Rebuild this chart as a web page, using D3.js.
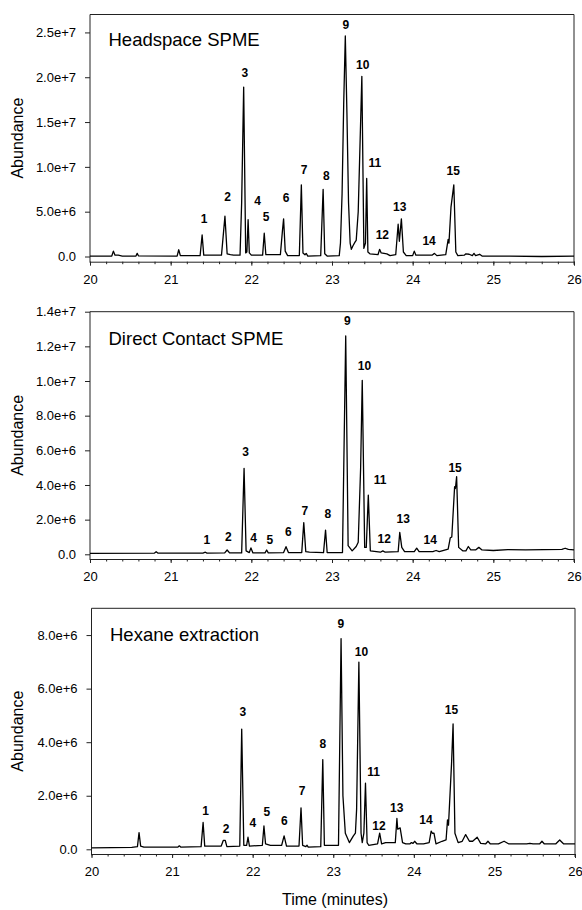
<!DOCTYPE html>
<html lang="en">
<head>
<meta charset="utf-8">
<title>Chromatograms</title>
<script src="https://d3js.org/d3.v7.min.js"></script>
<style>
  body { margin: 0; background: #fff; }
  text { font-family: "Liberation Sans", Arial, sans-serif; fill: #000; }
</style>
</head>
<body>
<svg width="582" height="910"></svg>
<script>

// ---- data (time in minutes, abundance in units of 1e6) ----
var titles = ["Headspace SPME", "Direct Contact SPME", "Hexane extraction"];
var yMaxes = [2.7e7, 1.4e7, 9e6];
var yTicks = [
  [0, 5e6, 1e7, 1.5e7, 2e7, 2.5e7],
  [0, 2e6, 4e6, 6e6, 8e6, 1e7, 1.2e7, 1.4e7],
  [0, 2e6, 4e6, 6e6, 8e6]
];
var xTicks = [20, 21, 22, 23, 24, 25, 26];

var headspace = [
  [20.00,0.05],[20.27,0.05],[20.29,0.6],[20.31,0.15],[20.35,0.15],[20.40,0.05],
  [20.57,0.05],[20.585,0.35],[20.60,0.08],
  [21.08,0.05],[21.10,0.75],[21.12,0.1],
  [21.365,0.1],[21.39,2.4],[21.41,0.15],
  [21.63,0.15],[21.673,4.5],[21.70,0.3],[21.74,0.2],[21.78,0.15],
  [21.86,0.15],[21.88,6],[21.905,18.9],[21.93,0.4],[21.945,0.5],[21.96,4.1],[21.975,0.4],[22.0,0.15],
  [22.14,0.15],[22.16,2.6],[22.18,0.2],
  [22.36,0.2],[22.385,2.8],[22.40,4.2],[22.42,0.6],[22.45,0.1],
  [22.595,0.1],[22.62,8.0],[22.64,0.4],[22.665,0.2],[22.68,0.35],[22.70,0.05],
  [22.86,0.1],[22.89,7.5],[22.91,0.3],[22.94,0.05],
  [23.09,0.1],[23.105,1.5],[23.125,7],[23.145,17],[23.165,24.6],[23.185,16],[23.205,6],[23.225,1.5],
  [23.24,0.8],[23.26,1.2],[23.285,1.6],[23.30,1.8],
  [23.325,5],[23.37,20.1],[23.395,0.9],[23.415,1.5],[23.43,8.7],[23.445,0.5],[23.47,0.3],
  [23.57,0.2],[23.59,0.8],[23.61,0.4],[23.68,0.3],[23.72,0.1],
  [23.79,0.2],[23.82,3.6],[23.835,1.7],[23.86,4.2],[23.885,0.5],[23.92,0.1],
  [24.00,0.1],[24.02,0.6],[24.04,0.15],
  [24.24,0.15],[24.27,0.35],[24.30,0.1],
  [24.41,0.2],[24.44,1.9],[24.45,1.5],[24.475,5.5],[24.51,8.0],[24.535,0.5],[24.56,0.1],
  [24.64,0.15],[24.66,0.3],[24.70,0.25],[24.74,0.1],[24.76,0.35],[24.78,0.1],[24.83,0.25],[24.86,0.05],
  [25.2,0.05],[25.6,0.0],[26.0,0.05]
];

var directContact = [
  [20.0,0.05],[20.8,0.07],[20.82,0.15],[20.84,0.07],[21.40,0.07],[21.43,0.12],[21.45,0.07],
  [21.67,0.08],[21.70,0.25],[21.73,0.08],
  [21.88,0.08],[21.91,4.96],[21.935,0.2],[21.975,0.1],[21.995,0.37],[22.02,0.08],
  [22.17,0.08],[22.19,0.25],[22.21,0.08],
  [22.40,0.1],[22.43,0.44],[22.46,0.1],
  [22.625,0.1],[22.65,1.83],[22.675,0.15],[22.72,0.12],
  [22.895,0.1],[22.92,1.4],[22.94,0.1],
  [23.13,0.1],[23.17,12.6],[23.20,0.5],[23.25,0.2],[23.30,0.45],[23.325,0.7],[23.355,5],[23.375,10.04],
  [23.405,0.4],[23.425,0.4],[23.45,3.42],[23.475,0.2],
  [23.60,0.12],[23.63,0.2],[23.66,0.12],
  [23.82,0.15],[23.84,1.27],[23.865,0.4],[23.9,0.15],
  [24.02,0.15],[24.05,0.35],[24.08,0.15],
  [24.25,0.15],[24.29,0.22],[24.33,0.15],
  [24.44,0.3],[24.466,0.95],[24.485,1.0],[24.52,3.9],[24.53,3.8],[24.545,4.48],[24.57,0.4],[24.62,0.2],
  [24.66,0.2],[24.69,0.45],[24.72,0.25],[24.78,0.25],[24.82,0.4],[24.86,0.25],
  [25.0,0.22],[25.18,0.27],[25.4,0.25],[25.85,0.28],[25.89,0.35],[25.93,0.28],[26.0,0.25]
];

var hexane = [
  [20.0,0.05],[20.50,0.07],[20.57,0.1],[20.59,0.62],[20.61,0.12],[20.65,0.08],[20.7,0.08],
  [21.07,0.08],[21.09,0.13],[21.11,0.08],
  [21.36,0.1],[21.385,1.0],[21.405,0.12],
  [21.61,0.12],[21.635,0.33],[21.66,0.33],[21.68,0.1],
  [21.84,0.12],[21.864,4.49],[21.89,0.15],[21.925,0.15],[21.942,0.45],[21.96,0.12],
  [22.12,0.15],[22.14,0.87],[22.16,0.2],[22.22,0.15],
  [22.36,0.15],[22.39,0.5],[22.42,0.12],
  [22.575,0.12],[22.60,1.55],[22.62,0.15],[22.66,0.1],[22.675,0.15],[22.69,0.08],
  [22.845,0.1],[22.87,3.35],[22.89,0.15],
  [23.065,0.15],[23.097,7.87],[23.12,2],[23.15,0.6],[23.20,0.25],[23.25,0.5],[23.275,0.6],[23.29,1.5],
  [23.318,6.99],[23.345,0.6],[23.36,0.25],[23.38,0.6],[23.40,2.47],[23.42,0.25],[23.44,0.15],
  [23.55,0.2],[23.576,0.6],[23.60,0.2],[23.65,0.25],
  [23.77,0.25],[23.79,1.15],[23.80,0.75],[23.83,0.8],[23.86,0.25],[23.9,0.2],
  [23.95,0.2],[23.97,0.25],[23.99,0.22],[24.01,0.3],[24.04,0.2],[24.12,0.2],
  [24.19,0.25],[24.215,0.68],[24.23,0.6],[24.25,0.6],[24.275,0.2],[24.35,0.3],
  [24.40,0.35],[24.418,1.1],[24.43,0.9],[24.468,3.2],[24.487,4.68],[24.51,0.6],[24.55,0.25],
  [24.60,0.3],[24.643,0.55],[24.69,0.3],[24.73,0.3],[24.786,0.45],[24.83,0.22],[24.89,0.2],[24.92,0.3],[24.95,0.2],
  [25.05,0.2],[25.12,0.3],[25.18,0.2],[25.40,0.2],[25.44,0.22],[25.48,0.2],[25.56,0.2],[25.59,0.3],[25.62,0.2],
  [25.76,0.2],[25.81,0.35],[25.86,0.2],[26.0,0.2]
];

// peak labels: [label, time, abundance (1e6) of label baseline]
var headspaceLabels = [
  ["1",21.415,3.7],["2",21.705,6.2],["3",21.921,20.0],["4",22.078,5.8],["5",22.184,4.0],
  ["6",22.432,6.1],["7",22.653,9.2],["8",22.929,8.5],["9",23.173,25.4],["10",23.38,20.9],
  ["11",23.532,10.0],["12",23.624,1.9],["13",23.84,5.1],["14",24.204,1.3],["15",24.503,9.1]
];
var directLabels = [
  ["1",21.447,0.62],["2",21.714,0.77],["3",21.93,5.67],["4",22.027,0.69],["5",22.23,0.62],
  ["6",22.46,1.06],["7",22.662,2.25],["8",22.947,2.12],["9",23.191,13.21],["10",23.403,10.66],
  ["11",23.596,4.08],["12",23.647,0.65],["13",23.882,1.83],["14",24.218,0.58],["15",24.526,4.77]
];
var hexaneLabels = [
  ["1",21.417,1.28],["2",21.67,0.6],["3",21.878,4.97],["4",22.002,0.82],["5",22.177,1.24],
  ["6",22.393,0.89],["7",22.614,2.02],["8",22.871,3.77],["9",23.093,8.28],["10",23.35,7.22],
  ["11",23.502,2.72],["12",23.567,0.71],["13",23.788,1.41],["14",24.151,0.96],["15",24.468,5.06]
];

var traces = [headspace, directContact, hexane];
var peakLabels = [headspaceLabels, directLabels, hexaneLabels];

// ---- layout of the three stacked panels ----
var panels = [
  {left: 90,   right: 574, top: 14.5,  zero: 256.5, axisY: 261.7, titleY: 46},
  {left: 90,   right: 574, top: 311.7, zero: 554.3, axisY: 559,   titleY: 344.5},
  {left: 91.5, right: 575, top: 608.3, zero: 849.3, axisY: 854,   titleY: 640.5}
];

var svg = d3.select("svg");
var fmt = function(d) { return d === 0 ? "0.0" : d3.format(".1e")(d); };
var minorTicks = d3.range(20, 26.001, 0.2).map(function(d) { return +d.toFixed(1); });

panels.forEach(function(p, i) {
  var x = d3.scaleLinear().domain([20, 26]).range([p.left, p.right]);
  var y = d3.scaleLinear().domain([0, yMaxes[i]]).range([p.zero, p.top]);
  var g = svg.append("g");

  // frame: top and right edges
  g.append("path")
      .attr("d", "M" + p.left + "," + p.top + "H" + p.right + "V" + (p.axisY + 3))
      .attr("fill", "none")
      .attr("stroke", "#222")
      .attr("stroke-width", 1);

  // left axis line
  g.append("line")
      .attr("x1", p.left).attr("x2", p.left)
      .attr("y1", p.top).attr("y2", p.axisY + 1)
      .attr("stroke", "#222");

  // y axis ticks
  var ya = g.append("g")
      .attr("transform", "translate(" + p.left + ",0)")
      .call(d3.axisLeft(y).tickValues(yTicks[i]).tickFormat(fmt).tickSize(5).tickPadding(9));
  ya.select(".domain").remove();
  ya.selectAll("line").attr("stroke", "#222");
  ya.selectAll("text").style("font-size", "13px").attr("font-family", null);

  // x axis (offset below zero)
  var xa = g.append("g")
      .attr("transform", "translate(0," + p.axisY + ")")
      .call(d3.axisBottom(x).tickValues(xTicks).tickFormat(d3.format("d"))
        .tickSize(4).tickSizeOuter(0).tickPadding(9));
  xa.select(".domain").attr("stroke", "#222");
  xa.selectAll("line").attr("stroke", "#222");
  xa.selectAll("text").style("font-size", "13px").attr("font-family", null);

  var xm = g.append("g")
      .attr("transform", "translate(0," + p.axisY + ")")
      .call(d3.axisBottom(x).tickValues(minorTicks).tickFormat("").tickSize(2.5).tickSizeOuter(0));
  xm.select(".domain").remove();
  xm.selectAll("line").attr("stroke", "#222");

  // chromatogram trace
  var line = d3.line()
      .x(function(d) { return x(d[0]); })
      .y(function(d) { return y(d[1] * 1e6); });

  g.append("path")
      .datum(traces[i])
      .attr("d", line)
      .attr("fill", "none")
      .attr("stroke", "#000")
      .attr("stroke-width", 1.3)
      .attr("stroke-linejoin", "round");

  // peak numbers
  g.selectAll(".peak")
    .data(peakLabels[i])
    .enter().append("text")
      .attr("class", "peak")
      .attr("x", function(d) { return x(d[1]); })
      .attr("y", function(d) { return y(d[2] * 1e6); })
      .attr("text-anchor", "middle")
      .attr("font-weight", "bold")
      .style("font-size", "12px")
      .text(function(d) { return d[0]; });

  // panel title
  g.append("text")
      .attr("x", p.left + 18.5)
      .attr("y", p.titleY)
      .style("font-size", "18.5px")
      .text(titles[i]);

  // y axis title
  g.append("text")
      .attr("transform", "translate(23," + ((p.top + p.axisY) / 2) + ") rotate(-90)")
      .attr("text-anchor", "middle")
      .style("font-size", "16px")
      .text("Abundance");
});

// x axis title
svg.append("text")
    .attr("x", 335)
    .attr("y", 905)
    .attr("text-anchor", "middle")
    .style("font-size", "16px")
    .text("Time (minutes)");

</script>
</body>
</html>
